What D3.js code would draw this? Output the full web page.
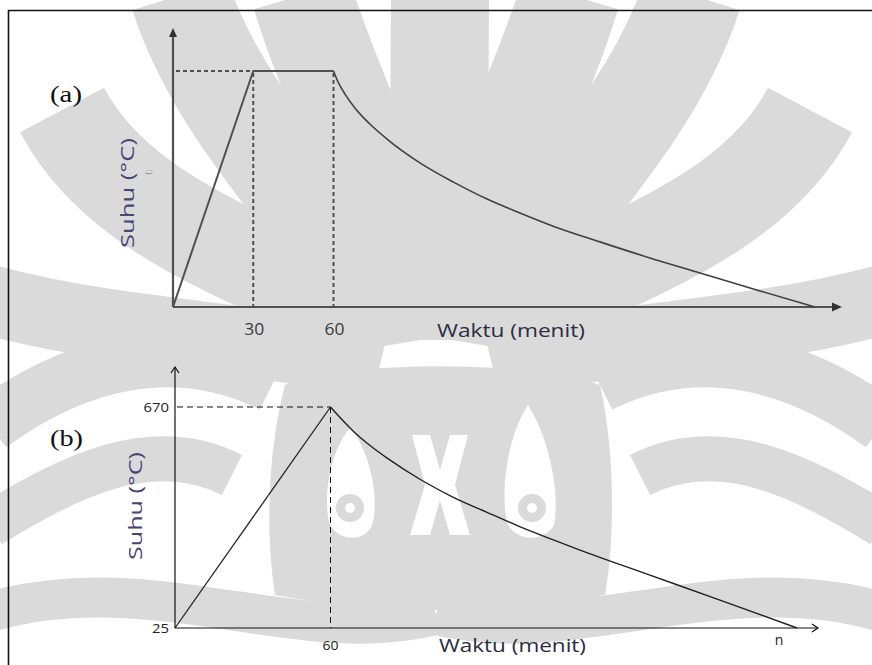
<!DOCTYPE html>
<html>
<head>
<meta charset="utf-8">
<script src="https://cdn.jsdelivr.net/npm/d3@7/dist/d3.min.js"></script>
<style>
  html, body { margin: 0; padding: 0; background: #fff; }
  svg { display: block; }
</style>
</head>
<body>
<div id="chart"></div>
<script>
// Fire-test temperature schedules (time in minutes, temperature in °C)
// (a): linear heating to 30 min, hold to 60 min, then cooling
const timeA  = [0, 30, 60];
const tempA  = [25, 670, 670];
const coolTimeA = [60, 61.7, 64.3, 68, 73.6, 80, 92.3, 104.7, 117.4, 129.7, 142.1, 159.6, 178.3, 197, 215.7, 240];
const coolTempA = [670, 640, 607, 569, 525, 484, 419, 367, 320, 282, 246, 203, 159, 118, 77, 25];
const ticksA = [30, 60];
const tickLabelsA = ["30", "60"];

// (b): linear heating to 60 min, then cooling until n
const timeB  = [0, 60];
const tempB  = [25, 670];
const coolTimeB = [60, 69, 75, 82, 95, 107, 120, 133, 146, 156, 183, 210, 240];
const coolTempB = [670, 598, 559, 520, 457, 408, 364, 321, 282, 253, 180, 107, 25];
const ticksB = [60];
const tickLabelsB = ["60"];
const yTicksB = [25, 670];
const yTickLabelsB = ["25", "670"];
const endLabelB = "n";

const xLabel = "Waktu (menit)";
const yLabel = "Suhu (°C)";

const W = 872, H = 665;
const svg = d3.select("#chart").append("svg")
  .attr("width", W).attr("height", H)
  .attr("viewBox", `0 0 ${W} ${H}`);

// ---------- light-grey emblem in the background ----------
const grey = "#dadada";
const emblem = svg.append("g").attr("fill", "none").attr("stroke", grey);
const cx = 436;
const mirror = p => p.map(([x, y]) => [2 * cx - x, y]);
const bez = p => `M${p[0]} C${p[1]} ${p[2]} ${p[3]}`;
// fan of petals rising from the centre
const petals = [
  { p: [[438, 340], [438, 250], [440, 100], [440, -5]], w: 98 },
  { p: [[420, 340], [400, 220], [330, 90], [302, -5]], w: 100 },
  { p: [[400, 330], [330, 220], [220, 120], [180, -5]], w: 100 },
  { p: [[380, 320], [260, 260], [120, 220], [62, 110]], w: 95 },
  { p: [[380, 365], [250, 335], [120, 335], [-10, 300]], w: 70 }
];
petals.forEach((d, i) => {
  emblem.append("path").attr("d", bez(d.p)).attr("stroke-width", d.w);
  if (i > 0) emblem.append("path").attr("d", bez(mirror(d.p))).attr("stroke-width", d.w);
});
// lower swirls on both sides
const swirls = [
  { p: [[272, 385], [172, 335], [72, 365], [-10, 425]], w: 55 },
  { p: [[232, 475], [152, 435], [72, 475], [-10, 525]], w: 45 },
  { p: [[-10, 612], [150, 565], [300, 650], [436, 615]], w: 40 }
];
swirls.forEach(d => {
  emblem.append("path").attr("d", bez(d.p)).attr("stroke-width", d.w);
  emblem.append("path").attr("d", bez(mirror(d.p))).attr("stroke-width", d.w);
});
// central lower body with two white teardrops, eyes and a white hourglass
const lower = svg.append("g");
lower.append("path")
  .attr("d", "M285,385 C340,360 540,360 600,385 C615,450 615,540 605,595 C500,615 380,615 275,595 C265,530 268,450 285,385 Z")
  .attr("fill", grey);
lower.append("path")
  .attr("d", "M350,428 C330,450 322,500 330,525 C340,542 365,542 372,525 C380,500 370,450 350,428 Z")
  .attr("fill", "#fff");
lower.append("path")
  .attr("d", "M528,405 C505,440 500,500 508,525 C518,542 545,542 554,525 C560,495 550,440 528,405 Z")
  .attr("fill", "#fff");
lower.append("path")
  .attr("d", "M412,435 L430,435 L440,470 L450,435 L468,435 L455,485 L470,535 L450,535 L440,500 L430,535 L410,535 L425,485 Z")
  .attr("fill", "#fff");
[[350, 508], [532, 508]].forEach(([x, y]) => {
  lower.append("circle").attr("cx", x).attr("cy", y).attr("r", 14).attr("fill", grey);
  lower.append("circle").attr("cx", x).attr("cy", y).attr("r", 5).attr("fill", "#fff");
});

// page frame (top and left rule)
svg.append("path")
  .attr("d", `M8.5,${H} V10.5 H${W}`)
  .attr("fill", "none").attr("stroke", "#111").attr("stroke-width", 1.6);

const sansFont = "'Open Sans', 'DejaVu Sans', sans-serif";
const serifFont = "'Liberation Serif', 'Times New Roman', serif";

// stretched text helper: fixes the drawn length of a label
function label(g, txt, opts) {
  const t = g.append("text")
    .attr("font-family", opts.font || sansFont)
    .attr("font-size", opts.size)
    .attr("fill", opts.fill || "#222")
    .attr("text-anchor", opts.anchor || "start")
    .text(txt);
  if (opts.transform) t.attr("transform", opts.transform);
  else t.attr("x", opts.x).attr("y", opts.y);
  if (opts.len) t.attr("textLength", opts.len).attr("lengthAdjust", "spacingAndGlyphs");
  return t;
}

// ---------- Panel (a) ----------
const xA = d3.scaleLinear().domain([0, 240]).range([173, 815]);
const yA = d3.scaleLinear().domain([25, 670]).range([307, 71]);
const gA = svg.append("g");
const colA = "#505050";

// dashed guides
const dashA = "4,3";
gA.append("line")
  .attr("x1", xA(0) + 3).attr("x2", xA(30))
  .attr("y1", yA(670)).attr("y2", yA(670))
  .attr("stroke", colA).attr("stroke-width", 2).attr("stroke-dasharray", dashA);
ticksA.forEach(t => {
  gA.append("line")
    .attr("x1", xA(t)).attr("x2", xA(t))
    .attr("y1", yA(670) + 2).attr("y2", yA(25))
    .attr("stroke", colA).attr("stroke-width", 2).attr("stroke-dasharray", dashA);
});

// axes with filled arrowheads
gA.append("line")
  .attr("x1", xA(0)).attr("x2", 836).attr("y1", yA(25)).attr("y2", yA(25))
  .attr("stroke", colA).attr("stroke-width", 2.2);
gA.append("path")
  .attr("d", `M842,${yA(25)} L832,${yA(25) - 4.5} L832,${yA(25) + 4.5} Z`)
  .attr("fill", "#333");
gA.append("line")
  .attr("x1", xA(0)).attr("x2", xA(0)).attr("y1", yA(25)).attr("y2", 36)
  .attr("stroke", colA).attr("stroke-width", 2.2);
gA.append("path")
  .attr("d", `M${xA(0)},28 L${xA(0) - 4},37 L${xA(0) + 4},37 Z`)
  .attr("fill", "#333");

// heating + hold segment
const lineA = d3.line().x((d, i) => xA(timeA[i])).y(d => yA(d));
gA.append("path")
  .attr("d", lineA(tempA))
  .attr("fill", "none").attr("stroke", "#505050").attr("stroke-width", 2)
  .attr("stroke-linejoin", "round");
// cooling curve
const coolA = d3.line().curve(d3.curveMonotoneX)
  .x((d, i) => xA(coolTimeA[i])).y(d => yA(d));
gA.append("path")
  .attr("d", coolA(coolTempA))
  .attr("fill", "none").attr("stroke", "#404040").attr("stroke-width", 1.6);

// tick labels
ticksA.forEach((t, i) => {
  label(gA, tickLabelsA[i], { x: xA(t) + 1, y: 335, size: 16, anchor: "middle", fill: "#3a3a3a", len: 20 });
});

label(gA, xLabel, { x: 437, y: 337, size: 18, fill: "#2c2c40", len: 148 });
label(gA, yLabel, { transform: "translate(134,193) rotate(-90)", size: 18, anchor: "middle", fill: "#4a4478", len: 110 });
label(gA, "(:", { transform: "translate(152,172) rotate(-90)", size: 9, anchor: "middle", fill: "#8a8a8a" });
label(gA, "(a)", { x: 50, y: 102, size: 23, font: serifFont, fill: "#111", len: 32 });

// ---------- Panel (b) ----------
const xB = d3.scaleLinear().domain([0, 240]).range([175, 797]);
const yB = d3.scaleLinear().domain([25, 670]).range([628, 407]);
const gB = svg.append("g");
const colB = "#111";
const dashB = "6,4";

gB.append("line")
  .attr("x1", xB(0) + 2).attr("x2", xB(60))
  .attr("y1", yB(670)).attr("y2", yB(670))
  .attr("stroke", colB).attr("stroke-width", 1).attr("stroke-dasharray", dashB);
ticksB.forEach(t => {
  gB.append("line")
    .attr("x1", xB(t)).attr("x2", xB(t))
    .attr("y1", yB(670)).attr("y2", yB(25))
    .attr("stroke", colB).attr("stroke-width", 1).attr("stroke-dasharray", dashB);
});

// axes with open arrowheads
gB.append("line")
  .attr("x1", xB(0)).attr("x2", 818).attr("y1", yB(25)).attr("y2", yB(25))
  .attr("stroke", colB).attr("stroke-width", 1.2);
gB.append("path")
  .attr("d", `M812,${yB(25) - 4} L818,${yB(25)} L812,${yB(25) + 4}`)
  .attr("fill", "none").attr("stroke", colB).attr("stroke-width", 1.2);
gB.append("line")
  .attr("x1", xB(0)).attr("x2", xB(0)).attr("y1", yB(25)).attr("y2", 367)
  .attr("stroke", colB).attr("stroke-width", 1.2);
gB.append("path")
  .attr("d", `M${xB(0) - 4},373 L${xB(0)},367 L${xB(0) + 4},373`)
  .attr("fill", "none").attr("stroke", colB).attr("stroke-width", 1.2);

const lineB = d3.line().x((d, i) => xB(timeB[i])).y(d => yB(d));
gB.append("path")
  .attr("d", lineB(tempB))
  .attr("fill", "none").attr("stroke", "#222").attr("stroke-width", 1.3);
const coolB = d3.line().curve(d3.curveMonotoneX)
  .x((d, i) => xB(coolTimeB[i])).y(d => yB(d));
gB.append("path")
  .attr("d", coolB(coolTempB))
  .attr("fill", "none").attr("stroke", "#222").attr("stroke-width", 1.4);

ticksB.forEach((t, i) => {
  label(gB, tickLabelsB[i], { x: xB(t), y: 650, size: 13, anchor: "middle", fill: "#222", len: 16 });
});
yTicksB.forEach((v, i) => {
  label(gB, yTickLabelsB[i], { x: xB(0) - 6, y: yB(v) + 5, size: 13, anchor: "end", fill: "#222",
    len: yTickLabelsB[i].length * 8.5 });
});
label(gB, endLabelB, { x: xB(240) - 18, y: 645, size: 14, anchor: "middle", fill: "#222" });

label(gB, xLabel, { x: 439, y: 652, size: 18, fill: "#2c2c40", len: 147 });
label(gB, yLabel, { transform: "translate(142,506) rotate(-90)", size: 18, anchor: "middle", fill: "#4a4478", len: 108 });
label(gB, "(b)", { x: 50, y: 446, size: 23, font: serifFont, fill: "#111", len: 33 });
</script>
</body>
</html>
